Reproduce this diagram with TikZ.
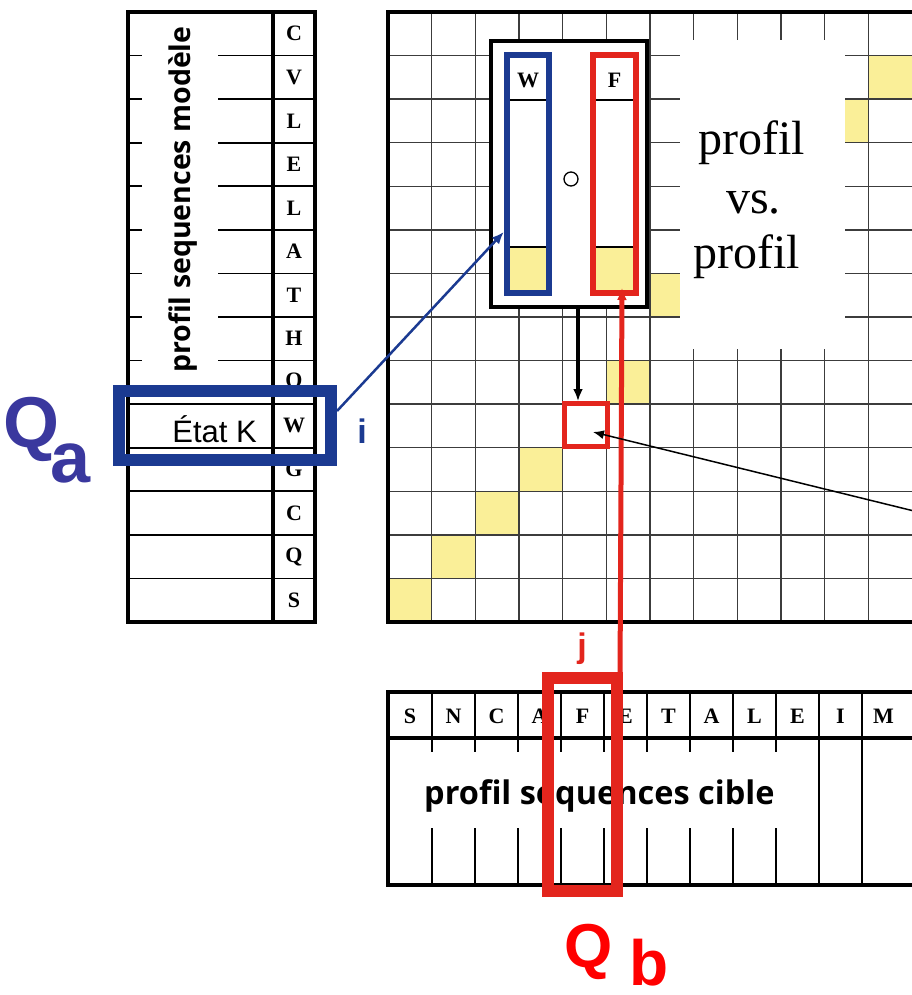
\documentclass[tikz,border=0pt]{standalone}
\usepackage{fontspec}
\setmainfont{Liberation Serif}
\setsansfont{Liberation Sans}
\newfontfamily\profilefont{Open Sans}
\usetikzlibrary{arrows.meta}

\definecolor{cellyellow}{RGB}{250,239,152}
\definecolor{markblue}{RGB}{27,58,145}
\definecolor{qablue}{RGB}{58,56,158}
\definecolor{markred}{RGB}{227,37,29}
\definecolor{qbred}{RGB}{255,0,0}
\definecolor{gridgray}{RGB}{60,60,60}

\begin{document}
\begin{tikzpicture}[x=1pt,y=-1pt,
  frame/.style={line width=4.5pt, line cap=rect},
  gridline/.style={line width=1.4pt, draw=gridgray},
  rowline/.style={line width=1.8pt},
  residue/.style={font=\fontsize{22}{22}\selectfont\bfseries, inner sep=0pt},
  vsfont/.style={font=\fontsize{48}{48}\selectfont, inner sep=0pt},
  profiletitle/.style={font=\profilefont\bfseries, inner sep=0pt},
  bigsub/.style={font=\sffamily\bfseries, inner sep=0pt},
  column/.style={line width=6pt, minimum width=42.5pt, minimum height=238pt, inner sep=0pt},
  tip/.style={-{Latex[length=12pt,width=10pt]}}
]
\useasboundingbox (0,0) rectangle (912,995);
\clip (0,0) rectangle (912,995);

\pgfmathsetmacro{\cw}{43.667}
\pgfmathsetmacro{\rh}{43.571}

% ---------- score matrix ----------
\foreach \c/\r in {0/13,1/12,2/11,3/10,5/8,6/6,7/5,8/4,9/3,10/2,11/1}
  \fill[cellyellow] ({388+\c*\cw},{12+\r*\rh}) rectangle ++(\cw,\rh);
\foreach \k in {1,...,11}
  \draw[gridline] ({388+\k*\cw},12) -- ({388+\k*\cw},622);
\foreach \k in {1,...,13}
  \draw[gridline] (388,{12+\k*\rh}) -- (912,{12+\k*\rh});
\fill[white] (680,40) rectangle (845,349);
\draw[frame] (920,12) -- (388,12) -- (388,622) -- (920,622);

\node[vsfont, anchor=base west] (vs1) at (698,155) {profil};
\node[vsfont, anchor=base west] (vs2) at (726,213) {vs.};
\node[vsfont, anchor=base west] (vs3) at (693,268) {profil};

% ---------- query profile (rows) ----------
\draw[frame] (128,12) rectangle (315,622);
\draw[frame] (273,12) -- (273,622);
\foreach \k in {1,...,13}
  \draw[rowline] (273,{12+\k*\rh}) -- (315,{12+\k*\rh});
\foreach \k in {1,...,8} {
  \draw[rowline] (128,{12+\k*\rh}) -- (142,{12+\k*\rh});
  \draw[rowline] (218,{12+\k*\rh}) -- (273,{12+\k*\rh});
}
\foreach \k in {9,...,13}
  \draw[rowline] (128,{12+\k*\rh}) -- (273,{12+\k*\rh});
\foreach \a [count=\r from 0] in {C,V,L,E,L,A,T,H,Q,W,G,C,Q,S}
  \node[residue] (q\r) at (294,{12+(\r+0.5)*\rh}) {\a};
\node[profiletitle, font=\profilefont\bfseries\fontsize{28.5}{28.5}\selectfont, rotate=90, anchor=base west] (qtitle) at (190,373) {profil sequences modèle};
\node[font=\sffamily\fontsize{31}{31}\selectfont, inner sep=0pt, anchor=base east] (stateK) at (257,442) {État K};

% ---------- target profile (columns) ----------
\draw[frame] (920,692) -- (388,692) -- (388,885) -- (920,885);
\draw[line width=4pt] (388,738) -- (912,738);
\foreach \k in {0,...,10} {
  \pgfmathsetmacro{\bx}{432+43*\k}
  \draw[rowline] (\bx,692) -- (\bx,738);
}
\foreach \k in {0,...,8} {
  \pgfmathsetmacro{\bx}{432+43*\k}
  \draw[rowline] (\bx,738) -- (\bx,752);
  \draw[rowline] (\bx,828) -- (\bx,885);
}
\foreach \k in {9,10} {
  \pgfmathsetmacro{\bx}{432+43*\k}
  \draw[rowline] (\bx,738) -- (\bx,885);
}
\foreach \a [count=\c from 0] in {S,N,C,A,F,E,T,A,L,E,I,M} {
  \pgfmathsetmacro{\lx}{\c==0 ? 410 : 410.5+43*\c}
  \node[residue] (t\c) at (\lx,716) {\a};
}
\node[profiletitle, font=\profilefont\bfseries\fontsize{32.5}{32.5}\selectfont, anchor=base west] (ttitle) at (424,804) {profil sequences cible};

% ---------- column comparison inset ----------
\node[draw, line width=4.5pt, fill=white, minimum width=156pt, minimum height=266pt, inner sep=0pt] (inset) at (569,174) {};
\fill[cellyellow] (510,247) rectangle (547,290);
\fill[cellyellow] (596,247) rectangle (633,290);
\draw[rowline] (510,100) -- (547,100);
\draw[rowline] (510,247) -- (547,247);
\draw[rowline] (596,100) -- (633,100);
\draw[rowline] (596,247) -- (633,247);
\node[column, draw=markblue] (colW) at (528,174) {};
\node[column, draw=markred] (colF) at (614.5,174) {};
\node[residue] (wlab) at (528,80) {W};
\node[residue] (flab) at (614.5,80) {F};
\node[circle, draw, line width=1.3pt, minimum size=14pt, inner sep=0pt] (dot) at (571,179) {};

% ---------- highlighted positions ----------
\node[draw=markblue, line width=12pt, minimum width=212pt, minimum height=69pt, inner sep=0pt] (qaBox) at (225,425.5) {};
\node[draw=markred, line width=12pt, minimum width=69pt, minimum height=213pt, inner sep=0pt] (qbBox) at (582.5,784.5) {};
\node[draw=markred, line width=5pt, minimum width=43pt, minimum height=43pt, inner sep=0pt] (cell) at (585.5,425) {};

% ---------- connectors ----------
\coordinate (iOut) at (qaBox.east |- 0,411);
\coordinate (wIn) at (colW.west |- 0,232);
\draw[markblue, line width=2.5pt, tip] (iOut) -- (wIn);

\coordinate (jOut) at (620,678);
\coordinate (fIn) at (622,288);
\draw[markred, line width=5pt, tip] (jOut) -- (fIn);

\coordinate (dropTop) at (578,306);
\draw[line width=3.5pt, tip] (dropTop) -- (dropTop |- cell.north);

\coordinate (farEnd) at (914,511);
\coordinate (cellMark) at (593,432);
\draw[line width=1.5pt, -{Latex[length=11pt,width=9pt]}] (farEnd) -- (cellMark);

% ---------- labels ----------
\node[bigsub, text=markblue, font=\sffamily\bfseries\fontsize{34}{34}\selectfont, anchor=base] (ilab) at (362,443) {i};
\node[bigsub, text=markred, font=\sffamily\bfseries\fontsize{34}{34}\selectfont, anchor=base] (jlab) at (582,657) {j};
\node[bigsub, text=qablue, font=\sffamily\bfseries\fontsize{72}{72}\selectfont, anchor=base west] (qa1) at (3,447) {Q};
\node[bigsub, text=qablue, font=\sffamily\bfseries\fontsize{72}{72}\selectfont, anchor=base west] (qa2) at (50,482) {a};
\node[bigsub, text=qbred, font=\sffamily\bfseries\fontsize{62}{62}\selectfont, anchor=base west] (qb1) at (564,967) {Q};
\node[bigsub, text=qbred, font=\sffamily\bfseries\fontsize{64}{64}\selectfont, anchor=base west] (qb2) at (629,985) {b};
\end{tikzpicture}
\end{document}
